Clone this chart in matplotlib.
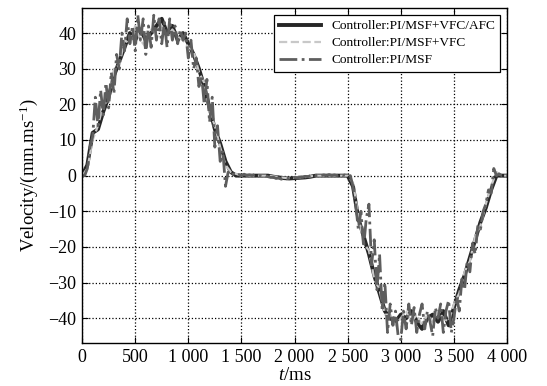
import numpy as np
import matplotlib
matplotlib.use("Agg")
import matplotlib.pyplot as plt
from matplotlib.ticker import FuncFormatter

plt.rcParams["font.family"] = ["Liberation Serif", "DejaVu Serif"]
plt.rcParams["mathtext.fontset"] = "custom"
plt.rcParams["mathtext.rm"] = "Liberation Serif"
plt.rcParams["mathtext.it"] = "Liberation Serif:italic"

# ---- dados -----------------------------------------------------------------
t_50 = np.arange(0, 4001, 50)   # amostragem 50 ms
t_25 = np.arange(0, 4001, 25)   # amostragem 25 ms

v_afc = [0, 3, 12, 13, 18, 22, 28, 32, 36, 40,
         38, 41, 38, 40, 42, 44, 40, 42, 38, 40,
         37, 34, 30, 25, 19, 13, 9, 4, 1, 0,
         0, 0, 0, 0, 0, 0, -0.3, -0.5, -0.7, -0.8,
         -0.7, -0.6, -0.5, -0.3, 0, 0, 0, 0, 0, 0,
         0, -3, -12, -17, -22, -28, -33, -38, -40, -41,
         -39, -40, -38, -41, -43, -40, -39, -41, -38, -42,
         -37, -32, -28, -23, -18, -13, -9, -4, 0, 0,
         0]

v_vfc = [0, 2, 10, 14, 20, 21, 30, 31, 38, 37,
         42, 38, 36, 41, 40, 42, 39, 41, 39, 38,
         36, 35, 29, 26, 18, 14, 8, 3, 1, 0.5,
         0, 0, 0, 0, 0, 0, -0.2, -0.4, -0.6, -0.7,
         -0.6, -0.5, -0.4, -0.2, 0, 0, 0, 0, 0, 0,
         0, -2, -11, -19, -21, -29, -32, -39, -39, -42,
         -40, -38, -41, -39, -42, -39, -41, -38, -40, -41,
         -36, -33, -27, -24, -17, -14, -8, -3, 1, 0,
         0]

v_msf = [0, 0, 2, 8, 11, 22, 14, 24, 17, 26,
         19, 29, 23, 34, 30, 40, 35, 44, 37, 42,
         35, 45, 38, 44, 34, 42, 36, 45, 38, 44,
         37, 43, 36, 44, 38, 42, 37, 41, 38, 40,
         33, 38, 30, 33, 25, 28, 20, 27, 15, 22,
         8, 14, 4, 7, -3, 1, 0, 0.5, 0, 0.3,
         0, 0.4, 0, 0.2, 0, 0.3, 0, 0, -0.2, 0,
         -0.3, -0.5, -0.4, -0.8, -0.6, -1.0, -0.7, -0.9, -0.6, -0.8,
         -0.5, -0.7, -0.4, -0.5, -0.2, -0.3, 0, 0.2, 0, 0.3,
         0, 0.2, 0, 0.3, 0, 0.2, 0, 0.3, 0, 0.2,
         0, 0, -3, -8, -15, -10, -20, -12, -8, -25,
         -18, -32, -22, -38, -30, -44, -36, -42, -38, -45,
         -46, -38, -43, -36, -42, -37, -44, -39, -36, -43,
         -38, -41, -45, -37, -40, -36, -44, -38, -35, -44,
         -40, -34, -38, -29, -32, -24, -27, -19, -22, -14,
         -15, -10, -8, -4, -5, 2, 0, 0.5, 0, 0,
         0]

rotulos = ["Controller:PI/MSF+VFC/AFC", "Controller:PI/MSF+VFC",
           "Controller:PI/MSF"]


def milhar(x, pos):
    s = f"{int(round(x)):d}"
    if len(s) > 3:
        s = s[:-3] + " " + s[-3:]
    return s.replace("-", "\u2212")


fig = plt.figure(figsize=(5.47, 3.86), dpi=100)
ax = fig.add_axes([0.150, 0.111, 0.777, 0.868])

ax.plot(t_50, v_afc, color="#262626", lw=2.8, ls="-", label=rotulos[0])
ax.plot(t_50, v_vfc, color="#c8c8c8", lw=1.6, ls="--", label=rotulos[1])
ax.plot(t_25, v_msf, color="#5e5e5e", lw=2.0, ls="-.", label=rotulos[2])

ax.set_xlim(0, 4000)
ax.set_ylim(-47, 47)
ax.set_xticks(np.arange(0, 4001, 500))
ax.set_yticks(np.arange(-40, 41, 10))
ax.xaxis.set_major_formatter(FuncFormatter(milhar))
ax.yaxis.set_major_formatter(FuncFormatter(milhar))
ax.tick_params(direction="in", labelsize=13, length=4, top=True, right=True,
               pad=4)
ax.grid(True, ls=":", color="black", lw=0.9)
for sp in ax.spines.values():
    sp.set_linewidth(1.0)

ax.set_xlabel("$t$/ms", fontsize=13.5, labelpad=1)
ax.set_ylabel("Velocity/(mm.ms$^{-1}$)", fontsize=13.5, labelpad=6)

leg = ax.legend(loc="upper right", fontsize=9.6, fancybox=False,
                framealpha=1, edgecolor="black", handlelength=3.1,
                borderaxespad=0.5, labelspacing=0.35, borderpad=0.4)
leg.get_frame().set_linewidth(0.9)

fig.savefig("out.png", dpi=100)
